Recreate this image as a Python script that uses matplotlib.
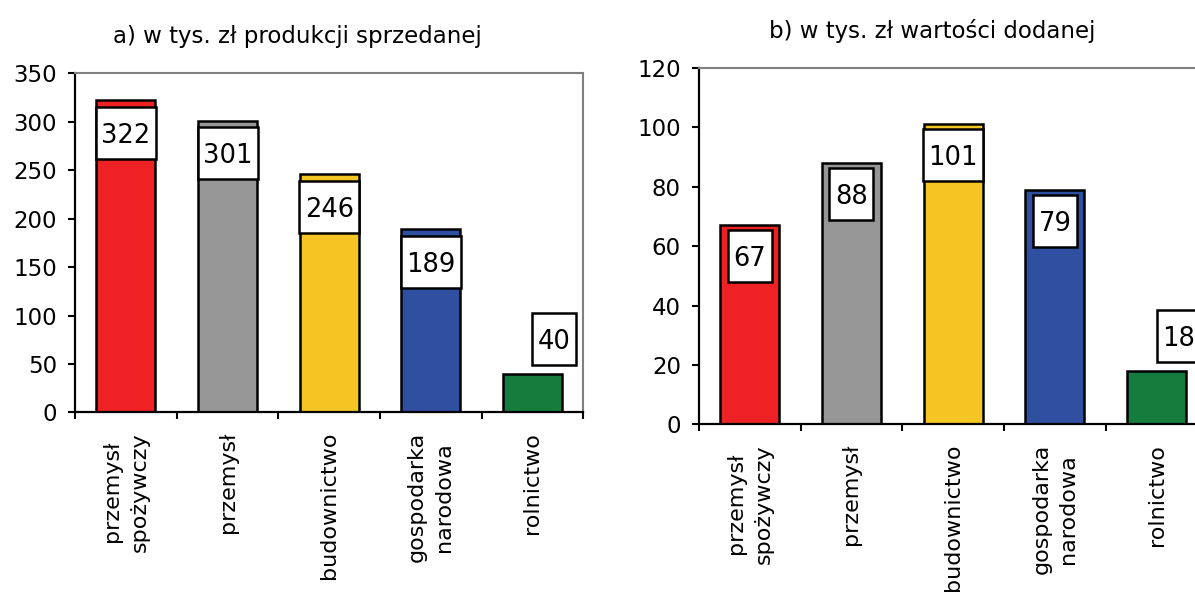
import numpy as np
import matplotlib
matplotlib.use("Agg")
import matplotlib.pyplot as plt
from matplotlib.patches import Rectangle
from matplotlib.transforms import ScaledTranslation

# dane
categories = ['przemysł\nspożywczy', 'przemysł', 'budownictwo',
              'gospodarka\nnarodowa', 'rolnictwo']
sold = [322, 301, 246, 189, 40]      # a) produkcja sprzedana
added = [67, 88, 101, 79, 18]        # b) wartość dodana
colors = ['#ee2224', '#969696', '#f5c523', '#2f4fa0', '#157c3d']

TITLE_A = 'a) w tys. zł produkcji sprzedanej'
TITLE_B = 'b) w tys. zł wartości dodanej'


def panel(fig, ax, values, ymax, step, gap):
    x = np.arange(len(values))
    ax.bar(x, values, width=0.58, color=colors, edgecolor='black',
           linewidth=1.8, zorder=2)
    ax.set_xlim(-0.5, len(values) - 0.5)
    ax.set_ylim(0, ymax)
    ax.set_yticks(range(0, ymax + 1, step))

    ax.set_xticks(np.arange(len(values) + 1) - 0.5)
    ax.set_xticklabels([])
    ax.set_xticks(x, minor=True)
    ax.set_xticklabels(categories, minor=True, rotation=90, va='top',
                       ha='center', multialignment='center', fontsize=16,
                       linespacing=1.45)
    ax.tick_params(axis='x', which='minor', length=0, pad=14)
    ax.tick_params(axis='both', which='major', length=5, width=1.5,
                   direction='out', labelsize=16.5)
    ax.tick_params(axis='y', pad=8)

    for s in ('left', 'bottom'):
        ax.spines[s].set_color('black')
        ax.spines[s].set_linewidth(1.6)
    for s in ('top', 'right'):
        ax.spines[s].set_color('#808080')
        ax.spines[s].set_linewidth(1.5)

    # etykiety w ramkach
    ax_h = ax.get_position().height * fig.get_figheight()
    for xi, v in zip(x, values):
        txt = str(v)
        w = 0.16 * len(txt) + 0.12
        h = 0.52
        if v / ymax * ax_h < h + 0.2:
            dx, dy = 0.22 - w / 2, 0.09
        else:
            dx, dy = -w / 2, -gap - h
        tr = fig.dpi_scale_trans + ScaledTranslation(xi, v, ax.transData)
        ax.add_patch(Rectangle((dx, dy), w, h, transform=tr, facecolor='white',
                               edgecolor='black', linewidth=1.8, zorder=3,
                               clip_on=False))
        ax.text(dx + w / 2, dy + h / 2, txt, transform=tr, ha='center',
                va='center_baseline', fontsize=18.5, zorder=4, clip_on=False)


fig = plt.figure(figsize=(11.95, 5.94), dpi=100)
ax1 = fig.add_axes([0.0628, 0.3056, 0.4253, 0.5710])
ax2 = fig.add_axes([0.5849, 0.2854, 0.4255, 0.6002])

panel(fig, ax1, sold, 350, 50, 0.065)
panel(fig, ax2, added, 120, 20, 0.05)

fig.text(297 / 1195, 1 - 36 / 594, TITLE_A, ha='center', va='center', fontsize=16.5)
fig.text(932 / 1195, 1 - 31 / 594, TITLE_B, ha='center', va='center', fontsize=16.5)

fig.savefig('out.png', dpi=100)
